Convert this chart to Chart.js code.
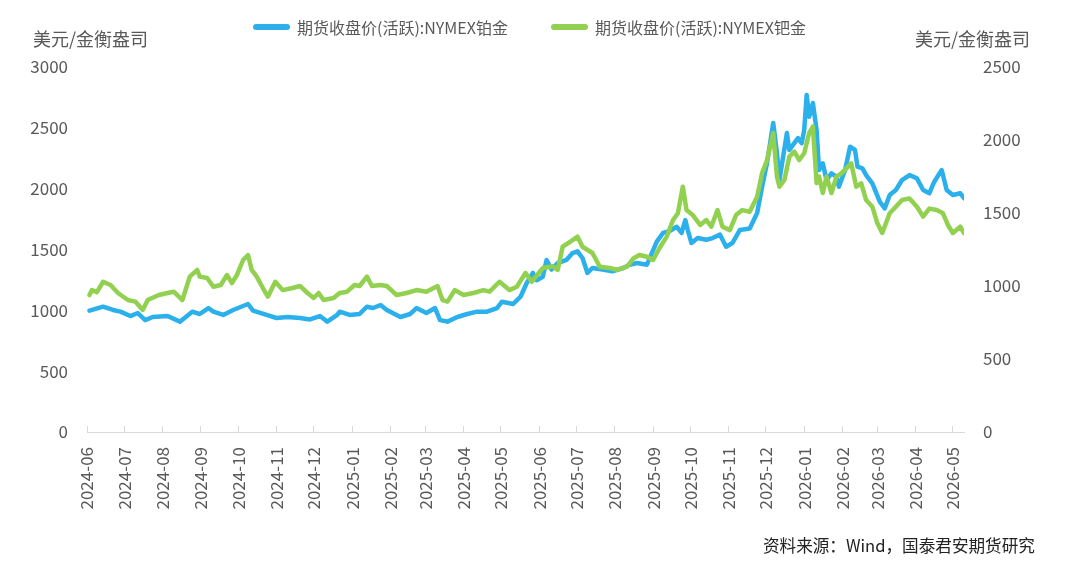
<!DOCTYPE html>
<html>
<head>
<meta charset="utf-8">
<script src="https://cdn.jsdelivr.net/npm/chart.js@4.4.1/dist/chart.umd.min.js"></script>
<style>
  body { margin: 0; background: #fff; }
  #wrap { position: relative; width: 1080px; height: 574px; font-family: "Noto Sans CJK SC", "Noto Sans", sans-serif; color: #595959; }
  canvas { position: absolute; left: 0; top: 0; }
  .unit { position: absolute; top: 28px; font-size: 18px; line-height: 20px; }
  .leg { position: absolute; top: 17px; font-size: 16px; line-height: 20px; display: flex; align-items: center; }
  .leg i { display: inline-block; width: 37px; height: 6px; border-radius: 3px; margin-right: 7px; }
  .src { position: absolute; left: 763px; top: 535px; font-size: 16.6px; line-height: 20px; color: #222; }
</style>
</head>
<body>
<div id="wrap">
  <canvas id="c" width="1080" height="574"></canvas>
  <div class="unit" style="left:33px">美元/金衡盎司</div>
  <div class="unit" style="left:915px">美元/金衡盎司</div>
  <div class="leg" style="left:253px"><i style="background:#2cb0ec"></i>期货收盘价(活跃):NYMEX铂金</div>
  <div class="leg" style="left:551px"><i style="background:#92d050"></i>期货收盘价(活跃):NYMEX钯金</div>
  <div class="src">资料来源：Wind，国泰君安期货研究</div>
</div>
<script>
// month ticks on the x axis
const tickLabels = ['2024-06', '2024-07', '2024-08', '2024-09', '2024-10', '2024-11', '2024-12',
  '2025-01', '2025-02', '2025-03', '2025-04', '2025-05', '2025-06', '2025-07', '2025-08', '2025-09',
  '2025-10', '2025-11', '2025-12', '2026-01', '2026-02', '2026-03', '2026-04', '2026-05'];

// platinum (left axis)
const ptDates = ['2024-06-03', '2024-06-14', '2024-06-22', '2024-06-28', '2024-07-06', '2024-07-12', '2024-07-18', '2024-07-24',
  '2024-08-05', '2024-08-15', '2024-08-25', '2024-08-31', '2024-09-07', '2024-09-11', '2024-09-19', '2024-09-27',
  '2024-10-09', '2024-10-13', '2024-10-24', '2024-11-01', '2024-11-10', '2024-11-20', '2024-11-28', '2024-12-06',
  '2024-12-12', '2024-12-20', '2024-12-22', '2024-12-30', '2025-01-07', '2025-01-13', '2025-01-18', '2025-01-24',
  '2025-01-29', '2025-02-09', '2025-02-17', '2025-02-22', '2025-03-02', '2025-03-09', '2025-03-13', '2025-03-19',
  '2025-03-27', '2025-04-04', '2025-04-12', '2025-04-20', '2025-04-28', '2025-05-02', '2025-05-11', '2025-05-17',
  '2025-05-22', '2025-05-27', '2025-05-30', '2025-06-04', '2025-06-07', '2025-06-11', '2025-06-16', '2025-06-23',
  '2025-06-28', '2025-07-02', '2025-07-06', '2025-07-10', '2025-07-14', '2025-07-22', '2025-07-30', '2025-08-08',
  '2025-08-13', '2025-08-19', '2025-08-27', '2025-09-04', '2025-09-09', '2025-09-14', '2025-09-20', '2025-09-24',
  '2025-09-27', '2025-09-29', '2025-10-02', '2025-10-07', '2025-10-14', '2025-10-19', '2025-10-25', '2025-10-30',
  '2025-11-04', '2025-11-10', '2025-11-18', '2025-11-24', '2025-11-28', '2025-12-02', '2025-12-07', '2025-12-10',
  '2025-12-12', '2025-12-15', '2025-12-18', '2025-12-20', '2025-12-24', '2025-12-27', '2025-12-30', '2026-01-01',
  '2026-01-03', '2026-01-05', '2026-01-08', '2026-01-11', '2026-01-13', '2026-01-16', '2026-01-19', '2026-01-23',
  '2026-01-27', '2026-01-29', '2026-02-03', '2026-02-07', '2026-02-11', '2026-02-13', '2026-02-17', '2026-02-20',
  '2026-02-25', '2026-03-03', '2026-03-07', '2026-03-11', '2026-03-16', '2026-03-21', '2026-03-27', '2026-04-02',
  '2026-04-07', '2026-04-12', '2026-04-16', '2026-04-22', '2026-04-26', '2026-05-01', '2026-05-07', '2026-05-10'];
const ptValues = [997, 1030, 1003, 989, 953, 978, 920, 945,
  953, 907, 989, 970, 1019, 989, 962, 1003,
  1052, 997, 962, 937, 945, 937, 925, 953,
  907, 962, 989, 962, 970, 1030, 1019, 1044,
  1003, 945, 970, 1019, 978, 1019, 920, 907,
  945, 970, 989, 989, 1019, 1071, 1052, 1112,
  1225, 1307, 1248, 1276, 1414, 1335, 1389, 1414,
  1471, 1485, 1430, 1307, 1348, 1335, 1321, 1348,
  1375, 1389, 1375, 1565, 1636, 1650, 1687, 1636,
  1742, 1660, 1553, 1594, 1580, 1594, 1622, 1523,
  1553, 1660, 1672, 1800, 2016, 2211, 2540, 2293,
  2071, 2264, 2457, 2318, 2374, 2416, 2374, 2482,
  2770, 2591, 2704, 2482, 2153, 2208, 2071, 2126,
  2099, 2016, 2153, 2345, 2318, 2181, 2167, 2112,
  2044, 1893, 1838, 1948, 1989, 2071, 2112, 2085,
  1989, 1962, 2057, 2153, 1989, 1948, 1962, 1921];

// palladium (right axis)
const pdDates = ['2024-06-03', '2024-06-05', '2024-06-09', '2024-06-14', '2024-06-20', '2024-06-26', '2024-07-04', '2024-07-10',
  '2024-07-16', '2024-07-20', '2024-07-29', '2024-08-05', '2024-08-10', '2024-08-17', '2024-08-23', '2024-08-29',
  '2024-08-31', '2024-09-06', '2024-09-11', '2024-09-17', '2024-09-22', '2024-09-26', '2024-09-30', '2024-10-05',
  '2024-10-09', '2024-10-12', '2024-10-16', '2024-10-21', '2024-10-25', '2024-10-31', '2024-11-06', '2024-11-14',
  '2024-11-20', '2024-11-26', '2024-12-01', '2024-12-05', '2024-12-09', '2024-12-17', '2024-12-22', '2024-12-28',
  '2025-01-03', '2025-01-07', '2025-01-13', '2025-01-17', '2025-01-24', '2025-01-29', '2025-02-06', '2025-02-14',
  '2025-02-22', '2025-03-02', '2025-03-11', '2025-03-15', '2025-03-19', '2025-03-25', '2025-04-01', '2025-04-09',
  '2025-04-17', '2025-04-22', '2025-04-30', '2025-05-08', '2025-05-14', '2025-05-21', '2025-05-26', '2025-06-04',
  '2025-06-12', '2025-06-16', '2025-06-20', '2025-06-26', '2025-07-02', '2025-07-06', '2025-07-14', '2025-07-20',
  '2025-07-28', '2025-08-03', '2025-08-11', '2025-08-16', '2025-08-21', '2025-08-27', '2025-09-01', '2025-09-06',
  '2025-09-12', '2025-09-17', '2025-09-21', '2025-09-25', '2025-09-28', '2025-10-03', '2025-10-09', '2025-10-14',
  '2025-10-18', '2025-10-23', '2025-10-27', '2025-11-02', '2025-11-07', '2025-11-12', '2025-11-18', '2025-11-24',
  '2025-11-28', '2025-12-02', '2025-12-07', '2025-12-10', '2025-12-12', '2025-12-16', '2025-12-20', '2025-12-24',
  '2025-12-28', '2026-01-01', '2026-01-05', '2026-01-08', '2026-01-11', '2026-01-13', '2026-01-16', '2026-01-19',
  '2026-01-23', '2026-01-27', '2026-01-31', '2026-02-04', '2026-02-08', '2026-02-12', '2026-02-16', '2026-02-20',
  '2026-02-25', '2026-03-01', '2026-03-05', '2026-03-11', '2026-03-16', '2026-03-21', '2026-03-27', '2026-04-02',
  '2026-04-07', '2026-04-12', '2026-04-18', '2026-04-23', '2026-04-27', '2026-05-01', '2026-05-07', '2026-05-10'];
const pdValues = [938, 972, 958, 1029, 1007, 952, 904, 893,
  836, 904, 938, 952, 961, 904, 1064, 1110,
  1064, 1055, 995, 1007, 1075, 1020, 1075, 1178,
  1212, 1110, 1064, 986, 927, 1029, 972, 986,
  1000, 952, 918, 952, 904, 918, 952, 961,
  1007, 1000, 1064, 1000, 1007, 1000, 938, 952,
  972, 961, 1000, 904, 893, 972, 938, 952,
  972, 961, 1029, 972, 995, 1089, 1029, 1123,
  1135, 1110, 1269, 1303, 1338, 1269, 1226, 1132,
  1123, 1110, 1132, 1188, 1212, 1200, 1178, 1257,
  1338, 1450, 1498, 1680, 1520, 1486, 1418, 1452,
  1406, 1520, 1406, 1383, 1486, 1520, 1509, 1612,
  1774, 1863, 2048, 1749, 1680, 1726, 1886, 1920,
  1863, 1909, 2048, 2091, 1705, 1749, 1637, 1749,
  1637, 1749, 1772, 1806, 1840, 1680, 1703, 1589,
  1543, 1431, 1363, 1498, 1543, 1589, 1600, 1543,
  1475, 1530, 1520, 1498, 1418, 1363, 1406, 1363];

const START = Date.UTC(2024, 5, 1);
function dayOf(s) {
  const p = s.split('-').map(Number);
  return (Date.UTC(p[0], p[1] - 1, p[2] || 1) - START) / 86400000;
}

const tickDays = tickLabels.map(dayOf);
const labelByDay = {};
tickLabels.forEach((t, i) => { labelByDay[tickDays[i]] = t; });

const toPoints = (dates, values) => dates.map((d, i) => ({ x: dayOf(d), y: values[i] }));

const grey = '#595959';
const fam = '"Noto Sans CJK SC", "Noto Sans", sans-serif';

const data = {
  datasets: [{
    label: '期货收盘价(活跃):NYMEX铂金',
    data: toPoints(ptDates, ptValues),
    borderColor: '#2cb0ec',
    yAxisID: 'y',
    order: 1
  },
  {
    label: '期货收盘价(活跃):NYMEX钯金',
    data: toPoints(pdDates, pdValues),
    borderColor: '#92d050',
    yAxisID: 'y1',
    order: 0
  }]
};

const config = {
  type: 'line',
  data,
  options: {
    responsive: false,
    animation: false,
    devicePixelRatio: 1,
    layout: { padding: { top: 67, left: 0, right: 0, bottom: 0 } },
    elements: {
      line: { borderWidth: 4.5, tension: 0, borderJoinStyle: 'round', borderCapStyle: 'round' },
      point: { radius: 0 }
    },
    plugins: {
      legend: { display: false },
      tooltip: { enabled: false }
    },
    scales: {
      x: {
        type: 'linear',
        min: 0,
        max: dayOf('2026-05-10'),
        afterBuildTicks: (s) => { s.ticks = tickDays.map(v => ({ value: v })); },
        afterFit: (s) => { s.height = 142; },
        grid: { display: true, drawOnChartArea: false, drawTicks: true, tickLength: -6, color: '#d9d9d9' },
        border: { display: true, color: '#d9d9d9' },
        ticks: {
          autoSkip: false, minRotation: 90, maxRotation: 90, padding: 21,
          color: grey, font: { size: 17, family: fam },
          callback: (v) => labelByDay[v] || ''
        }
      },
      y: {
        position: 'left',
        min: 0,
        max: 3000,
        afterFit: (s) => { s.width = 87; },
        grid: { display: false, drawTicks: false },
        border: { display: false },
        ticks: { stepSize: 500, padding: 19, color: grey, font: { size: 17, family: fam }, callback: (v) => String(v) }
      },
      y1: {
        position: 'right',
        min: 0,
        max: 2500,
        afterFit: (s) => { s.width = 116; },
        grid: { display: false, drawTicks: false },
        border: { display: false },
        ticks: { stepSize: 500, padding: 19, color: grey, font: { size: 17, family: fam }, callback: (v) => String(v) }
      }
    }
  }
};

const ctx = document.getElementById('c').getContext('2d');
const myChart = new Chart(ctx, config);
</script>
</body>
</html>
